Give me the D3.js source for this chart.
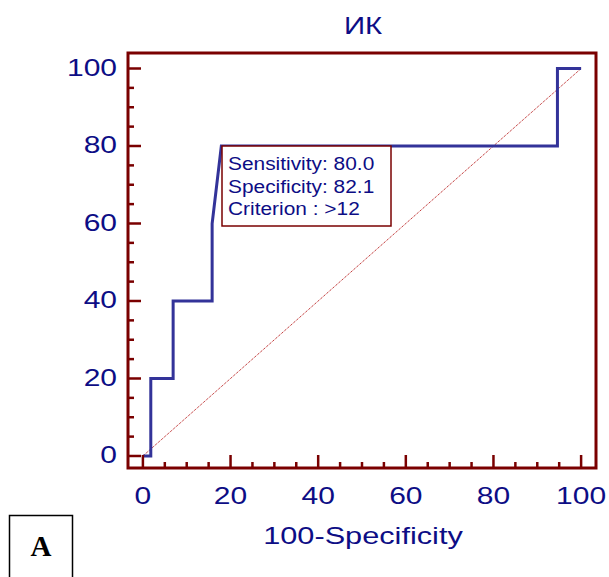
<!DOCTYPE html>
<html lang="en">
<head>
  <meta charset="UTF-8">
  <title>ИК</title>
  <style>
    body { margin: 0; background: #fff; }
    svg text { font-family: "Liberation Sans", Arial, sans-serif; }
  </style>
</head>
<body>
  <div id="chart"></div>
  <script src="https://d3js.org/d3.v7.min.js"></script>
  <script>
    // ROC curve points (100-Specificity, Sensitivity)
    var rocX = [0, 1.8, 1.8, 6.9, 6.9, 15.8, 15.8, 17.9, 94.6, 94.6, 100];
    var rocY = [0, 0, 20, 20, 40, 40, 60, 80, 80, 100, 100];
    var tickValues = [0, 20, 40, 60, 80, 100];
    var legendLines = ["Sensitivity: 80.0", "Specificity: 82.1", "Criterion : >12"];

    var W = 609, H = 577;
    var frame = {left: 128, right: 596, top: 53, bottom: 468};
    var navy = "#0d0d85", darkRed = "#7a0000";

    var svg = d3.select("#chart").append("svg")
      .attr("width", W).attr("height", H);

    // scales: domain a bit wider than 0..100 so the frame has some padding
    var x = d3.scaleLinear().domain([-3.4, 103.4]).range([frame.left, frame.right]);
    var y = d3.scaleLinear().domain([-3.1, 104]).range([frame.bottom, frame.top]);

    // the original text is a bit stretched sideways
    function wideText(g, tx, ty, size, sx, anchor, str) {
      return g.append("text")
        .attr("transform", "translate(" + tx + "," + ty + ") scale(" + sx + ",1)")
        .attr("text-anchor", anchor)
        .attr("fill", navy)
        .style("font-size", size + "px")
        .text(str);
    }

    // diagonal reference line
    svg.append("line")
      .attr("x1", x(0)).attr("y1", y(0))
      .attr("x2", x(100)).attr("y2", y(100))
      .attr("stroke", "#b00000")
      .attr("stroke-width", 1)
      .attr("stroke-dasharray", "1,1");

    // ROC curve
    var line = d3.line()
      .x(function(d, i) { return x(rocX[i]); })
      .y(function(d, i) { return y(rocY[i]); });
    svg.append("path")
      .datum(rocX)
      .attr("d", line)
      .attr("fill", "none")
      .attr("stroke", "#333399")
      .attr("stroke-width", 3)
      .attr("stroke-linejoin", "miter");

    // minor + major ticks (inward)
    var minor = d3.range(0, 101, 5);
    svg.selectAll(".xt").data(minor).enter().append("line")
      .attr("x1", function(d) { return x(d); })
      .attr("x2", function(d) { return x(d); })
      .attr("y1", frame.bottom)
      .attr("y2", function(d) { return frame.bottom - (d % 20 === 0 ? 13 : 6); })
      .attr("stroke", darkRed).attr("stroke-width", 2.5);
    svg.selectAll(".yt").data(minor).enter().append("line")
      .attr("y1", function(d) { return y(d); })
      .attr("y2", function(d) { return y(d); })
      .attr("x1", frame.left)
      .attr("x2", function(d) { return frame.left + (d % 20 === 0 ? 13 : 6); })
      .attr("stroke", darkRed).attr("stroke-width", 2.5);

    // frame
    svg.append("rect")
      .attr("x", frame.left).attr("y", frame.top)
      .attr("width", frame.right - frame.left)
      .attr("height", frame.bottom - frame.top)
      .attr("fill", "none")
      .attr("stroke", darkRed)
      .attr("stroke-width", 3);

    // tick labels
    tickValues.forEach(function(d) {
      wideText(svg, x(d), 504, 24, 1.25, "middle", d);
      wideText(svg, 117, y(d) + 7.5, 24, 1.25, "end", d);
    });

    // title and axis label
    wideText(svg, 363, 34, 23.5, 1.25, "middle", "ИК");
    wideText(svg, 363, 544, 24, 1.28, "middle", "100-Specificity");

    // legend box
    svg.append("rect")
      .attr("x", 222).attr("y", 146)
      .attr("width", 169).attr("height", 80)
      .attr("fill", "#fff")
      .attr("stroke", darkRed)
      .attr("stroke-width", 1.5);
    legendLines.forEach(function(d, i) {
      wideText(svg, 228, 170 + i * 22.5, 18.5, 1.13, "start", d);
    });

    // panel letter
    svg.append("rect")
      .attr("x", 9.5).attr("y", 515.5)
      .attr("width", 63).attr("height", 70)
      .attr("fill", "none")
      .attr("stroke", "#000")
      .attr("stroke-width", 1.5);
    svg.append("text")
      .attr("x", 41).attr("y", 556)
      .attr("text-anchor", "middle")
      .attr("fill", "#000")
      .style("font-family", "'Liberation Serif', 'Times New Roman', serif")
      .style("font-weight", "bold")
      .style("font-size", "29px")
      .text("A");
  </script>
</body>
</html>
